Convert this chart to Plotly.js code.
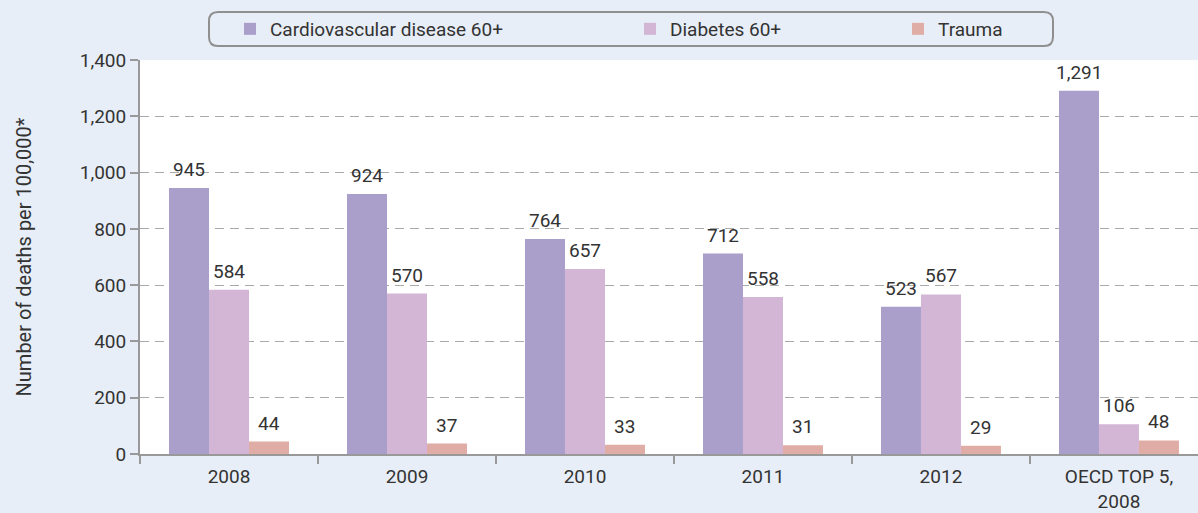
<!DOCTYPE html>
<html>
<head>
<meta charset="utf-8">
<script src="https://cdn.plot.ly/plotly-3.0.1.min.js"></script>
<style>html,body{margin:0;padding:0;background:#e8eef7;}#chart{width:1198px;height:513px;}</style>
</head>
<body>
<div id="chart"></div>
<script>
const categories = ["2008", "2009", "2010", "2011", "2012", "OECD TOP 5,<br>2008"];
const seriesNames = ["Cardiovascular disease 60+", "Diabetes 60+", "Trauma"];
const cardio = [945, 924, 764, 712, 523, 1291];
const diabetes = [584, 570, 657, 558, 567, 106];
const trauma = [44, 37, 33, 31, 29, 48];
const yTicks = [0, 200, 400, 600, 800, 1000, 1200, 1400];

const FONT = "Roboto, 'Noto Sans', sans-serif";
const colors = ["#aa9ecb", "#d3b6d6", "#e0ada6"];
const values = [cardio, diabetes, trauma];
const legends = ["legend", "legend2", "legend3"];

const W = 1198, H = 513, L = 140, T = 60, B = 59;
const xRange = [-0.5, 5.444];
const bargap = 0.326;
const pw = W - L, ph = H - T - B;
const catPx = pw / (xRange[1] - xRange[0]);
const barPx = catPx * (1 - bargap) / values.length;

const traces = values.map((v, i) => ({
  type: "bar",
  x: categories,
  y: v,
  name: seriesNames[i],
  marker: {color: colors[i], line: {width: 0}},
  legend: legends[i],
  hoverinfo: "skip"
}));

const annotations = [];
values.forEach((v, i) => {
  v.forEach((val, j) => {
    annotations.push({
      x: j, y: val, xref: "x", yref: "y",
      text: val.toLocaleString("en-US"),
      showarrow: false,
      xshift: (i - 1) * barPx,
      yanchor: "bottom",
      yshift: 5,
      font: {family: FONT, size: 19, color: "#333333"}
    });
  });
});

const legendBase = {
  orientation: "h",
  xref: "container",
  yref: "container",
  y: 1 - 29 / H,
  yanchor: "middle",
  xanchor: "left",
  bgcolor: "rgba(0,0,0,0)",
  borderwidth: 0,
  font: {family: FONT, size: 19, color: "#333333"},
  itemwidth: 30
};

const x0 = 209, x1 = 1053, y0 = 12, y1 = 46, r = 9;
function px(x){ return ((x - L) / pw).toFixed(5); }
function py(y){ return ((H - B - y) / ph).toFixed(5); }
const path = `M ${px(x0 + r)},${py(y0)} L ${px(x1 - r)},${py(y0)} Q ${px(x1)},${py(y0)} ${px(x1)},${py(y0 + r)} L ${px(x1)},${py(y1 - r)} Q ${px(x1)},${py(y1)} ${px(x1 - r)},${py(y1)} L ${px(x0 + r)},${py(y1)} Q ${px(x0)},${py(y1)} ${px(x0)},${py(y1 - r)} L ${px(x0)},${py(y0 + r)} Q ${px(x0)},${py(y0)} ${px(x0 + r)},${py(y0)} Z`;

const layout = {
  width: W,
  height: H,
  margin: {l: L, r: 0, t: T, b: B},
  paper_bgcolor: "#e8eef7",
  plot_bgcolor: "#ffffff",
  barmode: "group",
  bargap: bargap,
  bargroupgap: 0,
  showlegend: true,
  legend: Object.assign({}, legendBase, {x: 230 / W}),
  legend2: Object.assign({}, legendBase, {x: 630 / W}),
  legend3: Object.assign({}, legendBase, {x: 898 / W}),
  xaxis: {
    type: "category",
    range: xRange,
    tickson: "boundaries",
    ticks: "outside",
    ticklen: 8,
    tickwidth: 2,
    tickcolor: "#999999",
    showline: true,
    linecolor: "#999999",
    linewidth: 2,
    showgrid: false,
    ticklabelstandoff: 4,
    tickfont: {family: FONT, size: 19, color: "#333333"},
    automargin: false,
    fixedrange: true
  },
  yaxis: {
    range: [0, 1400],
    tickvals: yTicks,
    tickformat: ",",
    ticks: "outside",
    ticklen: 8,
    tickwidth: 2,
    tickcolor: "#999999",
    showline: true,
    linecolor: "#999999",
    linewidth: 2,
    showgrid: true,
    gridcolor: "#aaaaaa",
    griddash: "9px,6px",
    gridwidth: 1,
    zeroline: false,
    tickfont: {family: FONT, size: 19, color: "#333333"},
    title: {text: "Number of deaths per 100,000*", font: {family: FONT, size: 20, color: "#333333"}, standoff: 43},
    automargin: false,
    fixedrange: true
  },
  annotations: annotations,
  shapes: [{
    type: "path",
    xref: "paper",
    yref: "paper",
    path: path,
    line: {color: "#8f8f8f", width: 2},
    fillcolor: "rgba(0,0,0,0)",
    layer: "below"
  }]
};

Plotly.newPlot("chart", traces, layout, {displayModeBar: false, staticPlot: true});
</script>
</body>
</html>
